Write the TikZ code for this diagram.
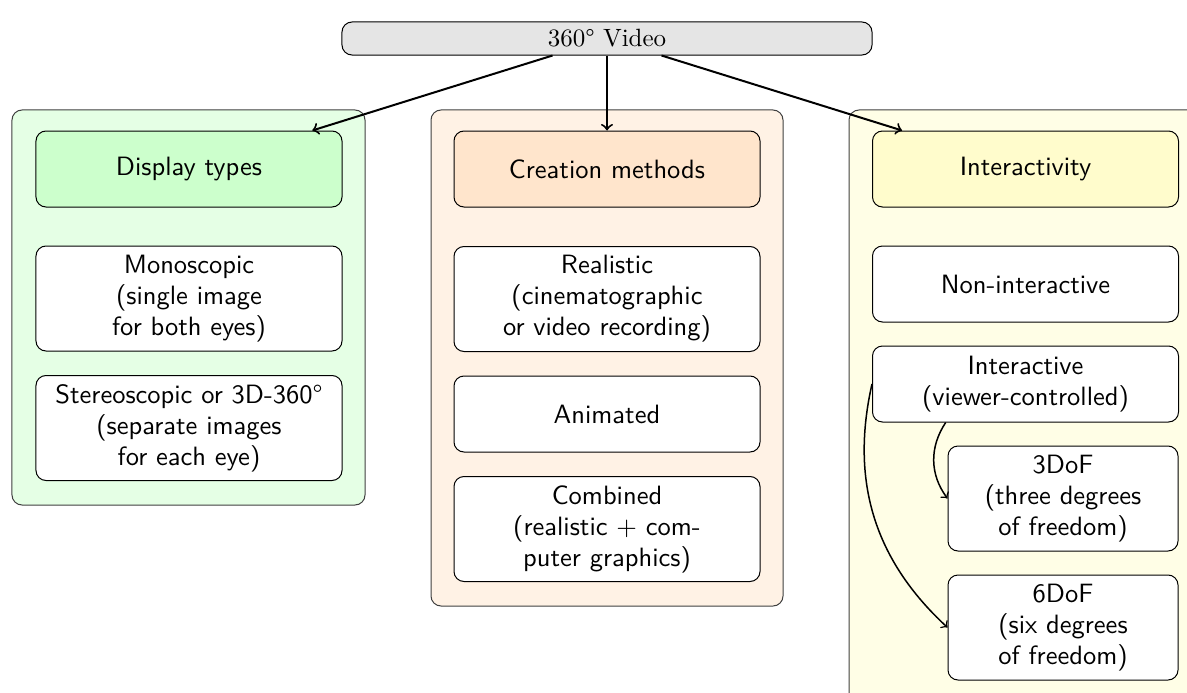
\documentclass[tikz,border=0pt]{standalone}
\usepackage{fontspec}
\usetikzlibrary{calc}
\begin{document}
\begin{tikzpicture}[x=0.4pt,y=-0.4pt,
  container/.style={draw=black!75, rounded corners=4pt, inner sep=0pt},
  hdr/.style={draw, rounded corners=4pt, minimum width=122.4pt, minimum height=30.4pt, inner sep=2pt, font=\sffamily\fontsize{10.6}{12.4}\selectfont, align=center},
  item/.style={draw, fill=white, rounded corners=4pt, minimum width=122.4pt, minimum height=30.4pt, inner sep=2pt, font=\sffamily\fontsize{10.6}{12.4}\selectfont, align=center},
  tall/.style={minimum height=42pt},
  sub/.style={minimum width=92pt},
  conn/.style={->, thick},
  cconn/.style={->, semithick}]
\useasboundingbox (0,0) rectangle (1187,693);
\clip (0,0) rectangle (1187,693);
% containers
\node[container, fill=green!10, minimum width=141.2pt, minimum height=158pt] (lc) at (188.5,307.5) {};
\node[container, fill=orange!10, minimum width=140.8pt, minimum height=198.4pt] (mc) at (607,358) {};
\node[container, fill=yellow!10, minimum width=141.2pt, minimum height=237.6pt] (rc) at (1025.5,407) {};
% top
\node[draw, fill=black!10, rounded corners=4pt, minimum width=212pt, minimum height=13.2pt, inner sep=1pt] (top) at (607,38.5) {360° Video};
% left column
\node[hdr, fill=green!20] (disp) at (189,169) {Display types};
\node[item, tall] (mono) at (189,298.5) {Monoscopic\\(single image\\for both eyes)};
\node[item, tall] (stereo) at (189,428) {Stereoscopic or 3D-360°\\(separate images\\for each eye)};
% middle column
\node[hdr, fill=orange!20] (crea) at (607,169) {Creation methods};
\node[item, tall] (real) at (607,299) {Realistic\\(cinematographic\\or video recording)};
\node[item] (anim) at (607,414) {Animated};
\node[item, tall] (comb) at (607,529) {Combined\\(realistic + com-\\puter graphics)};
% right column
\node[hdr, fill=yellow!20] (inta) at (1025.5,169) {Interactivity};
\node[item] (noni) at (1025.5,284) {Non-interactive};
\node[item] (inter) at (1025.5,384) {Interactive\\(viewer-controlled)};
\node[item, tall, sub] (three) at (1063,498.5) {3DoF\\(three degrees\\of freedom)};
\node[item, tall, sub] (six) at (1063,627.5) {6DoF\\(six degrees\\of freedom)};
% connectors
\draw[conn] (top) -- (disp);
\draw[conn] (top) -- (crea);
\draw[conn] (top) -- (inta);
\coordinate (istart) at ($(inter.south west)!0.24!(inter.south east)$);
\draw[cconn] (istart) to[bend right=35] (three.west);
\draw[cconn] (inter.west) to[bend right=30] (six.west);
\end{tikzpicture}
\end{document}
